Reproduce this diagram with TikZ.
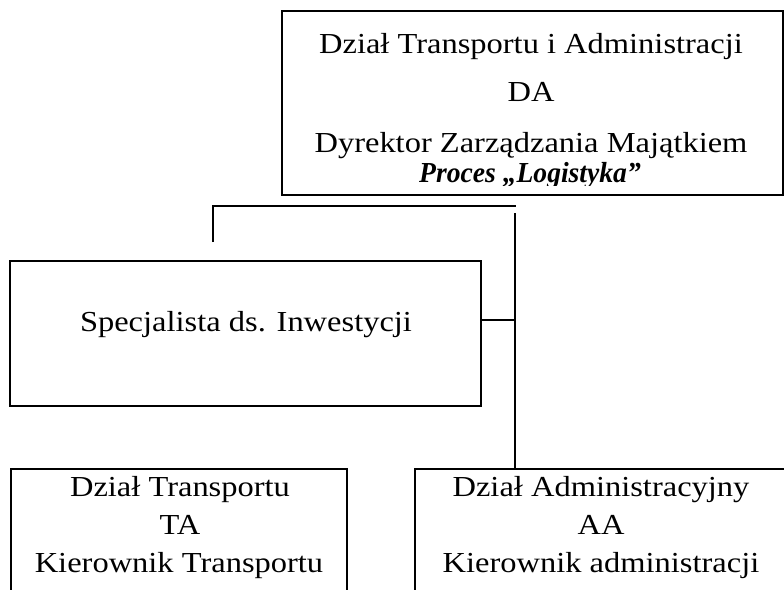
\documentclass[tikz,border=0pt]{standalone}
\usepackage{fontspec}
\setmainfont{Liberation Serif}[FakeStretch=1.12]
\begin{document}
\begin{tikzpicture}[x=1pt,y=-1pt,
  box/.style={draw, line width=1.3pt, inner sep=0pt},
  txt/.style={anchor=base, inner sep=0pt, font=\fontsize{29}{34}\selectfont},
  conn/.style={line width=1.3pt}]
\clip (0,0) rectangle (784,589);
\useasboundingbox (0,0) rectangle (784,589);
\fill[white] (0,0) rectangle (784,589);
% boxes
\node[box, minimum width=501pt, minimum height=184pt] (da) at (532.5,103) {};
\node[box, minimum width=471pt, minimum height=145pt] (spec) at (245.5,333.5) {};
\node[box, minimum width=336pt, minimum height=151pt] (ta) at (179,544.5) {};
\node[box, minimum width=385pt, minimum height=151pt] (aa) at (607.5,544.5) {};
% texts
\node[txt] (da1) at (531,53) {Dział Transportu i Administracji};
\node[txt] (da2) at (531,101) {DA};
\node[txt] (da3) at (531,152) {Dyrektor Zarządzania Majątkiem};
\begin{scope}
\clip (380,150) rectangle (680,185);
\node[txt, font=\fontsize{29}{34}\selectfont\bfseries\itshape] (da4) at (530,182) {\scalebox{0.85}[1]{Proces „Logistyka”}};
\end{scope}
\node[txt] (sp1) at (246,331) {Specjalista ds. Inwestycji};
\node[txt] (ta1) at (180,496) {Dział Transportu};
\node[txt] (ta2) at (180,534) {TA};
\node[txt] (ta3) at (179,572) {Kierownik Transportu};
\node[txt] (aa1) at (601,496) {Dział Administracyjny};
\node[txt] (aa2) at (601,534) {AA};
\node[txt] (aa3) at (601,572) {Kierownik administracji};
% connectors
\coordinate (hl) at (213,206);
\coordinate (hr) at (516,206);
\coordinate (lend) at (213,242);
\coordinate (vtop) at (515,213);
\coordinate (sj) at (481,320);
\draw[conn] (lend) -- (hl) -- (hr);
\draw[conn] (vtop) -- (vtop |- aa.north);
\draw[conn] (spec.east |- sj) -- (vtop |- sj);
\end{tikzpicture}
\end{document}
